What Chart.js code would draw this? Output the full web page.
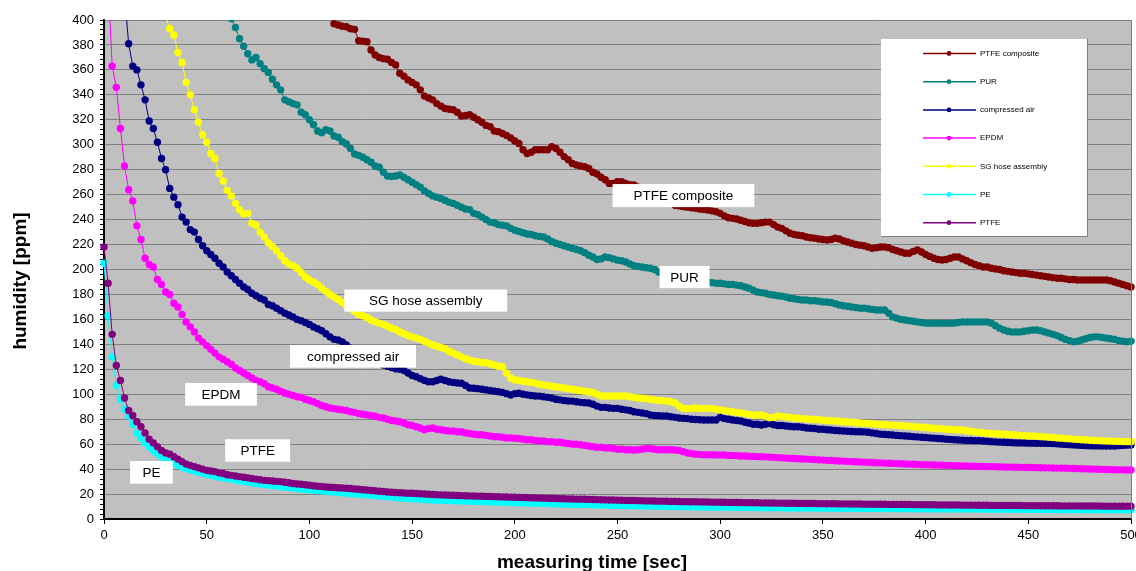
<!DOCTYPE html>
<html>
<head>
<meta charset="utf-8">
<script src="https://cdn.jsdelivr.net/npm/chart.js@4.4.1/dist/chart.umd.min.js"></script>
<style>
  html, body { margin: 0; padding: 0; background: #fff; }
</style>
</head>
<body>
<canvas id="chart" width="1136" height="571"></canvas>
<script>
// measuring time [sec], one reading every 2 s
const times = [
  0,2,4,6,8,10,12,14,16,18,20,22,24,26,28,30,32,34,36,38,40,42,44,46,48,50,52,54,56,58,60,62,64,66,68,70,72,74,76,78,80,82,84,86,88,90,92,94,96,98,
  100,102,104,106,108,110,112,114,116,118,120,122,124,126,128,130,132,134,136,138,140,142,144,146,148,150,152,154,156,158,160,162,164,166,168,170,172,174,176,178,180,182,184,186,188,190,192,194,196,198,
  200,202,204,206,208,210,212,214,216,218,220,222,224,226,228,230,232,234,236,238,240,242,244,246,248,250,252,254,256,258,260,262,264,266,268,270,272,274,276,278,280,282,284,286,288,290,292,294,296,298,
  300,302,304,306,308,310,312,314,316,318,320,322,324,326,328,330,332,334,336,338,340,342,344,346,348,350,352,354,356,358,360,362,364,366,368,370,372,374,376,378,380,382,384,386,388,390,392,394,396,398,
  400,402,404,406,408,410,412,414,416,418,420,422,424,426,428,430,432,434,436,438,440,442,444,446,448,450,452,454,456,458,460,462,464,466,468,470,472,474,476,478,480,482,484,486,488,490,492,494,496,498,
  500
]

// humidity [ppm]
const ptfeComposite = [
  null,null,null,null,null,null,null,null,null,null,
  null,null,null,null,null,null,null,null,null,null,
  null,null,null,null,null,null,null,null,null,null,
  null,null,null,null,null,null,null,null,null,null,
  null,null,null,null,null,null,null,null,null,null,
  null,null,null,null,null,null,
  397,396,395,394.6,
  393,392.5,383.4,383,382.6,376,372,370,369,368.5,
  366,364,357.3,355,352,350,348,344,339,337.5,
  336,333,331,329,328.5,328,326,323,323.5,324,
  322,320,318,315.5,314.5,311,310.5,309,307.5,305.5,
  303,301,296,293,294,296,296,296,296,298.5,
  297,294,290.5,288,285,283.8,283,282.4,281,278,
  276.6,274,272,269,269,270.4,270.4,269,268,267.7,
  266,264,262,260,258.5,257,255.5,254,253,251.5,
  251,250.4,250,249.5,249,248.5,248,247.7,247,246.3,
  245,243,241.5,241,240.5,239.5,238.5,237.5,237,237,
  237.5,238,238,236,234,233,231,229,228,227.4,
  227,226,225.5,225,224.5,224,223.6,224,225,224.5,
  223,222,221,220,219.5,219,218,217,217.5,218,
  218,217.5,216,215,214,213,213,214.5,215.6,214,
  212,210.5,209,208,207.6,208,209,210,210,208.5,
  207,205.5,204,203,202,202,201,200.5,200,199,
  198.5,198,197.5,197,197,196.5,196,195.5,195,194.5,
  194,193.5,193,193,192.5,192,192,191.6,191.6,191.6,
  191.6,191.6,191.6,191.6,191.6,191,190,189,188,187,
  186
]

const pur = [
  1100,1020,950,890,835,785,740,700,665,635,
  607,582,560,541,524,509,496,485,475,466,
  458,451,444,438,432,426,421,416,412,408,
  404,401,394,385,379,373,368,370,365,361,
  358,352.5,348,344,336,334.5,333,332,326,324,
  320,316,311,309.7,312,311,307,306,302.5,300.6,
  297,292.6,291.5,290,288,286,283,282,278,275,
  274.5,275,275.8,274,272,270,268,266,263,261,
  259,258,257,255.5,254,253,251.5,250,248.5,248,
  245,244,242,240,238,237.5,236,235.5,235,233,
  231.5,230.5,229.5,228.5,228,227,226.5,226,224.5,222.5,
  221,220,219,218,217,216,215,213.5,211.5,210,
  208,208.5,210,209.5,208.5,207.5,207,206,204.5,203,
  202.5,202,201.5,201,200,198,197,196,195,194,
  193.5,193,192.5,192,191.5,191,190.5,190,189.5,189,
  189,188.5,188,188,187.5,187,186,185,183.5,182,
  181.5,181,180,179.5,179,178.5,178,177,176.5,176,
  175.5,175.5,175,175,174.5,174,174,173.5,172.5,171.5,
  171,170.5,170,169.5,169,169,168.5,168,167.5,167.5,
  167.5,165,162,161,160,159.5,159,158.5,158,157.5,
  157,157,157,157,157,157,157,157,157.5,158,
  158,158,158,158,158,158,157,155,153,151.5,
  150.5,150,150,150,150.5,151,151.5,151.5,151,150,
  149,148,147,145.5,144,143,142,142.5,143.5,144.5,
  145.5,146,146,145.5,145,144.5,144,143,142.5,142,
  142.5
]

const compressedAir = [
  900,780,680,590,510,420,381,363,360,348,
  336,319,313,302,289,280,265,258,252,242,
  238,232,230,224,219,215,212,209,205,202,
  198,195,192,189,186,184,181,179,177,175.5,
  172,171,169,167,165,163.5,162,160,159,157.5,
  156,154,152.5,151,148.5,146,144,143.5,142,139.5,
  137,135,133,131,129,127.5,126,125,123.5,122.5,
  121.5,120.5,120,119,117,115,114,112.5,111,110,
  110,111,112,111,110,109.5,109,108.8,107,105,
  104.8,104.5,104,103.5,103,102.5,102,101.5,100.5,99.4,
  100.5,100.8,100,99.5,99,98.6,98.5,98,97.5,97,
  96,95.5,95,94.6,94.5,94,93.5,93.2,93,92,
  90.5,89.5,89.5,89,88.7,88.7,88,87.5,87,86,
  85.5,85,84.5,83.4,83,82.8,82.6,82.6,82,81.5,
  81,80.7,80.5,80,79.8,79.5,79.4,79.4,79.4,79.4,
  81.5,80.5,80,79.4,79,78.5,77.5,77,76,76,
  75.4,76,76.5,75.5,75,75,74.5,74.2,74,74,
  73.5,73,72.8,72.5,72,72,71.5,71.3,71,70.8,
  70.5,70.3,70.2,70,70,69.8,69.5,69,68.5,68,
  67.8,67.5,67.3,67,66.8,66.5,66.3,66,65.8,65.5,
  65.3,65,64.8,64.5,64.3,64,63.8,63.5,63.3,63.2,
  63,62.9,62.8,62.8,62.5,62.3,62,61.8,61.6,61.5,
  61.3,61.2,61,61,60.9,60.8,60.8,60.7,60.7,60.7,
  60.6,60.5,60.3,60,59.8,59.6,59.4,59.2,59,58.8,
  58.7,58.6,58.6,58.5,58.5,58.5,58.5,58.8,59,59.2,
  59.3
]

const epdm = [
  620,430,363,346,313,283,264,255,235,224,
  209,204,202,192,188,182,180,173,170,164,
  158,154,150,145,142,139,136,133,130,128,
  126,124,121,119,117,115,113,111,110,108.5,
  106,105,104,102.5,101,100,99,98,97.5,96,
  95,94,92.5,91,90,89,88.5,88,87.5,87,
  86,85.5,84.5,84,83.5,83,82.5,81.5,81,80,
  79,78.5,78,77,75.5,75,74,73,71.5,72.5,
  73,72,71.5,71,70.5,70.5,70,70,69,68.5,
  68,67.5,67.5,67,66.5,66,66,65.5,65,65,
  64.7,64.5,64,63.5,63.5,63,62.5,62.5,62,62,
  61.5,61.5,61,60.5,60,60,59.5,59,58.5,58,
  57.5,57.5,57,57,56.5,56,56,55.5,55.5,55.3,
  55.5,56,56.5,56.5,56,55.5,55.5,55.5,55.5,55.3,
  55,54,53,52.5,52,51.8,51.5,51.5,51.5,51.3,
  51.3,51.3,51,51,50.8,50.5,50.5,50.3,50.2,50,
  50,49.8,49.6,49.4,49.2,49,48.8,48.6,48.5,48.3,
  48.1,48,47.8,47.6,47.4,47.2,47,46.9,46.7,46.5,
  46.4,46.2,46,45.9,45.7,45.6,45.4,45.3,45.1,45,
  44.8,44.7,44.6,44.4,44.3,44.1,44,43.9,43.8,43.6,
  43.5,43.4,43.3,43.2,43.1,43,43,42.8,42.7,42.6,
  42.5,42.4,42.3,42.2,42.1,42,42,41.9,41.8,41.7,
  41.6,41.6,41.5,41.4,41.4,41.3,41.3,41.2,41.1,41,
  41,40.9,40.8,40.8,40.7,40.6,40.5,40.4,40.3,40.2,
  40.1,40,39.9,39.8,39.7,39.6,39.5,39.4,39.4,39.3,
  39.3
]

const sgHose = [
  1400,1250,1120,1000,900,820,750,690,640,590,
  545,505,470,440,420,403,393,388,374,366,
  350,340,328,318,308,302,293,289,277,271,
  263.5,259,253,248,244.5,245,237,235.5,230,226,
  221.5,218.5,215,211,207,204.5,203,201,197.5,194,
  191.6,190,188,185,182.5,180,178,176,173.5,171,
  168.5,166.5,164,163,161.5,159.5,158,157,156,154.5,
  153,152,150,148.5,147,146,145,144,142.5,141,
  139.5,138.5,137.5,136.5,134.5,133,131.5,130,128.5,127.5,
  126.5,126,125.5,125.3,124.5,123.5,122.5,122,117,113,
  111.5,111,110.5,110,109.5,109,108,107.5,107,106.5,
  106,105.5,105,104.5,104,103.5,103,102.5,102,101.5,
  100,98.6,98.6,98.6,98.6,98.6,98.6,98.6,98,97.5,
  97,96.8,96.5,96,95.5,95,94.8,94.5,94,93,
  90.5,88.7,88.5,88.7,89,88.7,88.5,88.7,88.5,88,
  87.5,87,86.5,86,85.5,85,84.5,84,83.4,83.4,
  83.4,82.5,81.2,81.5,82.6,82.3,81.8,81.5,81,80.8,
  80.5,80.2,80,79.8,79.5,79.2,79,78.8,78.5,78.3,
  78,77.8,77.5,77.3,77,76.8,76.5,76.3,76,75.8,
  75.6,75.4,75.2,75,74.8,74.5,74.3,74,73.8,73.5,
  73.3,73,72.8,72.5,72.3,72,71.8,71.5,71.3,71.3,
  70.8,70.3,69.8,69.5,69.2,68.7,68.5,68.3,68.1,68,
  67.8,67.5,67.3,67,66.8,66.6,66.5,66.3,66,65.8,
  65.5,65.3,65,64.8,64.5,64.3,64,63.8,63.5,63.3,
  63.1,62.9,62.8,62.6,62.5,62.4,62.3,62.2,62.1,62,
  62
]

const pe = [
  205,163,130,107,96,88,82.6,76,69,65,
  61,58,55,52.5,50,48,46,44.5,43,41.5,
  40.5,39.5,38.5,37.5,36.6,35.8,35,34.3,33.6,33,
  32.4,31.8,31.2,30.6,30,29.5,29,28.5,28,27.6,
  27.2,26.8,26.4,26,25.6,25.2,24.8,24.4,24,23.7,
  23.4,23.1,22.8,22.5,22.2,21.9,21.6,21.3,21,20.8,
  20.5,20.2,19.9,19.6,19.3,19,18.7,18.4,18.1,17.8,
  17.5,17.2,16.9,16.6,16.4,16.2,16,15.8,15.6,15.4,
  15.2,15.1,15,14.9,14.8,14.7,14.6,14.5,14.4,14.3,
  14.2,14.1,14,13.9,13.8,13.7,13.6,13.5,13.4,13.3,
  13.2,13.1,13,12.9,12.8,12.7,12.6,12.5,12.4,12.3,
  12.2,12.1,12,11.9,11.8,11.7,11.7,11.6,11.5,11.4,
  11.3,11.2,11.2,11.1,11,10.9,10.9,10.8,10.7,10.7,
  10.6,10.5,10.5,10.4,10.3,10.3,10.2,10.2,10.1,10,
  10,9.9,9.9,9.8,9.8,9.7,9.7,9.6,9.6,9.5,
  9.5,9.5,9.4,9.4,9.3,9.3,9.3,9.2,9.2,9.2,
  9.1,9.1,9.1,9,9,9,8.9,8.9,8.9,8.9,
  8.8,8.8,8.8,8.8,8.7,8.7,8.7,8.7,8.6,8.6,
  8.6,8.6,8.6,8.5,8.5,8.5,8.5,8.5,8.4,8.4,
  8.4,8.4,8.4,8.3,8.3,8.3,8.3,8.3,8.2,8.2,
  8.2,8.2,8.2,8.1,8.1,8.1,8.1,8.1,8,8,
  8,8,8,8,7.9,7.9,7.9,7.9,7.9,7.9,
  7.8,7.8,7.8,7.8,7.8,7.8,7.7,7.7,7.7,7.7,
  7.7,7.7,7.6,7.6,7.6,7.6,7.6,7.6,7.6,7.5,
  7.5,7.5,7.5,7.5,7.5,7.5,7.4,7.4,7.4,7.4,
  7.4
]

const ptfe = [
  218,189,148,123,111,97,87,83,78,74,
  69,64,61,58,55,53,52,50,48,46,
  44,43,42,41,40,39,38.5,38,37,36.5,
  35.5,35,34.5,34,33.5,33,32.5,32,31.5,31,
  30.8,30.5,30.2,30,29.5,29,28.5,28,27.8,27.5,
  27,26.6,26.3,26,25.7,25.4,25.2,25,24.8,24.6,
  24.4,24.1,23.8,23.5,23.2,22.9,22.6,22.3,22,21.7,
  21.4,21.2,21,20.9,20.7,20.6,20.4,20.2,20,19.8,
  19.6,19.5,19.3,19.2,19.1,19,18.8,18.7,18.6,18.5,
  18.4,18.3,18.2,18.1,18,17.9,17.8,17.7,17.6,17.5,
  17.4,17.3,17.2,17.1,17,16.9,16.8,16.7,16.6,16.5,
  16.4,16.3,16.2,16.1,16,15.9,15.9,15.8,15.7,15.6,
  15.5,15.4,15.3,15.2,15.2,15.1,15,14.9,14.8,14.8,
  14.7,14.6,14.5,14.5,14.4,14.3,14.3,14.2,14.1,14.1,
  14,13.9,13.9,13.8,13.8,13.7,13.6,13.6,13.5,13.5,
  13.4,13.4,13.3,13.3,13.2,13.2,13.1,13.1,13,13,
  12.9,12.9,12.8,12.8,12.7,12.7,12.6,12.6,12.6,12.5,
  12.5,12.4,12.4,12.4,12.3,12.3,12.2,12.2,12.2,12.1,
  12.1,12.1,12,12,12,11.9,11.9,11.9,11.8,11.8,
  11.8,11.7,11.7,11.7,11.6,11.6,11.6,11.5,11.5,11.5,
  11.4,11.4,11.4,11.3,11.3,11.3,11.2,11.2,11.2,11.1,
  11.1,11.1,11.1,11,11,11,10.9,10.9,10.9,10.9,
  10.8,10.8,10.8,10.8,10.7,10.7,10.7,10.7,10.6,10.6,
  10.6,10.6,10.6,10.5,10.5,10.5,10.5,10.5,10.4,10.4,
  10.4,10.4,10.4,10.3,10.3,10.3,10.3,10.3,10.2,10.2,
  10.2
]

const seriesNames = ['PTFE composite', 'PUR', 'compressed air', 'EPDM', 'SG hose assembly', 'PE', 'PTFE']
const seriesValues = [ptfeComposite, pur, compressedAir, epdm, sgHose, pe, ptfe]
const seriesColors = ['#800000', '#008080', '#000080', '#ff00ff', '#ffff00', '#00ffff', '#800080']

// text boxes placed on the plot, in data units (sec / ppm)
const curveLabels = [
  { text: 'PTFE composite', t1: 247.6, t2: 316.6, v1: 250, v2: 268.5 },
  { text: 'PUR', t1: 270.5, t2: 294.8, v1: 185, v2: 202.8 },
  { text: 'SG hose assembly', t1: 117, t2: 196.3, v1: 166.2, v2: 184 },
  { text: 'compressed air', t1: 90.6, t2: 151.9, v1: 121.3, v2: 139.5 },
  { text: 'EPDM', t1: 39.5, t2: 74.4, v1: 90.8, v2: 109 },
  { text: 'PTFE', t1: 59, t2: 90.6, v1: 45.9, v2: 63.9 },
  { text: 'PE', t1: 12.7, t2: 33.5, v1: 28.3, v2: 46.5 }
]

const fontFamily = "'Liberation Sans', Arial, sans-serif"

const plotBackground = {
  id: 'plotBackground',
  beforeDraw(chart) {
    const { ctx, chartArea: a } = chart
    ctx.save()
    ctx.fillStyle = '#c0c0c0'
    ctx.fillRect(a.left, a.top, a.right - a.left, a.bottom - a.top)
    ctx.restore()
  },
  afterDatasetsDraw(chart) {
    const { ctx, chartArea: a } = chart
    ctx.save()
    ctx.strokeStyle = '#808080'
    ctx.lineWidth = 1
    ctx.beginPath()
    ctx.moveTo(a.right + 0.5, a.top)
    ctx.lineTo(a.right + 0.5, a.bottom)
    ctx.stroke()
    ctx.restore()
  }
}

const labelBoxes = {
  id: 'labelBoxes',
  afterDatasetsDraw(chart) {
    const { ctx, scales: { x, y } } = chart
    ctx.save()
    ctx.font = '13.5px ' + fontFamily
    ctx.textAlign = 'center'
    ctx.textBaseline = 'middle'
    curveLabels.forEach(l => {
      const x1 = x.getPixelForValue(l.t1), x2 = x.getPixelForValue(l.t2)
      const y1 = y.getPixelForValue(l.v2), y2 = y.getPixelForValue(l.v1)
      ctx.fillStyle = '#ffffff'
      ctx.fillRect(x1, y1, x2 - x1, y2 - y1)
      ctx.fillStyle = '#000000'
      ctx.fillText(l.text, (x1 + x2) / 2, (y1 + y2) / 2 + 1)
    })
    ctx.restore()
  }
}

const boxLegend = {
  id: 'boxLegend',
  afterDraw(chart) {
    const ctx = chart.ctx
    const left = 881, top = 39, w = 206, h = 197
    ctx.save()
    ctx.fillStyle = '#ffffff'
    ctx.fillRect(left, top, w, h)
    ctx.strokeStyle = '#808080'
    ctx.lineWidth = 1
    ctx.beginPath()
    ctx.moveTo(left + w + 0.5, top)
    ctx.lineTo(left + w + 0.5, top + h + 0.5)
    ctx.lineTo(left, top + h + 0.5)
    ctx.stroke()
    ctx.font = '8px ' + fontFamily
    ctx.textBaseline = 'middle'
    ctx.textAlign = 'left'
    chart.data.datasets.forEach((ds, i) => {
      const cy = 53.5 + i * 28.2
      ctx.strokeStyle = ds.borderColor
      ctx.lineWidth = 1.5
      ctx.beginPath()
      ctx.moveTo(923, cy)
      ctx.lineTo(976, cy)
      ctx.stroke()
      ctx.fillStyle = ds.borderColor
      ctx.beginPath()
      ctx.arc(949, cy, 2.4, 0, Math.PI * 2)
      ctx.fill()
      ctx.fillStyle = '#000000'
      ctx.fillText(ds.label, 980, cy)
    })
    ctx.restore()
  }
}

const axisTitles = {
  id: 'axisTitles',
  afterDraw(chart) {
    const ctx = chart.ctx
    ctx.save()
    ctx.fillStyle = '#000000'
    ctx.font = 'bold 19px ' + fontFamily
    ctx.textAlign = 'center'
    ctx.textBaseline = 'alphabetic'
    ctx.fillText('measuring time [sec]', 592, 568)
    ctx.translate(26, 281)
    ctx.rotate(-Math.PI / 2)
    ctx.fillText('humidity [ppm]', 0, 0)
    ctx.restore()
  }
}

const datasets = seriesNames.map((name, i) => ({
  label: name,
  data: times.map((t, j) => ({ x: t, y: seriesValues[i][j] })),
  borderColor: seriesColors[i],
  backgroundColor: seriesColors[i],
  borderWidth: 1,
  pointRadius: 3.7,
  pointBorderWidth: 0,
  pointHoverRadius: 3.7,
  tension: 0,
  spanGaps: false,
  order: seriesNames.length - i,
  clip: { left: 6, right: 6, top: 0, bottom: 6 }
}))

new Chart(document.getElementById('chart'), {
  type: 'line',
  data: { datasets: datasets },
  options: {
    responsive: false,
    animation: false,
    layout: { padding: { left: 0, right: 5, top: 20, bottom: 0 } },
    plugins: {
      legend: { display: false },
      tooltip: { enabled: false },
      title: { display: false }
    },
    scales: {
      x: {
        type: 'linear',
        min: 0,
        max: 500,
        ticks: {
          stepSize: 50,
          maxRotation: 0,
          padding: 4,
          color: '#000',
          font: { family: fontFamily, size: 13 }
        },
        grid: { drawOnChartArea: false, tickLength: 5, tickColor: '#000' },
        border: { color: '#000', width: 2 },
        afterFit(scale) {
          scale.height = 52
          scale.paddingLeft = 0
          scale.paddingRight = 0
        }
      },
      y: {
        type: 'linear',
        min: 0,
        max: 400,
        ticks: {
          stepSize: 4,
          maxTicksLimit: 200,
          autoSkip: false,
          padding: 6,
          color: '#000',
          font: { family: fontFamily, size: 13 },
          callback: v => (v % 20 === 0 ? v : '')
        },
        grid: {
          color: c => (c.tick && c.tick.value % 20 === 0 ? '#808080' : 'rgba(0,0,0,0)'),
          tickColor: '#000',
          tickLength: 4,
          lineWidth: 1
        },
        border: { color: '#000', width: 2 },
        afterFit(scale) {
          scale.width = 104
        }
      }
    }
  },
  plugins: [plotBackground, labelBoxes, boxLegend, axisTitles]
})
</script>
</body>
</html>
